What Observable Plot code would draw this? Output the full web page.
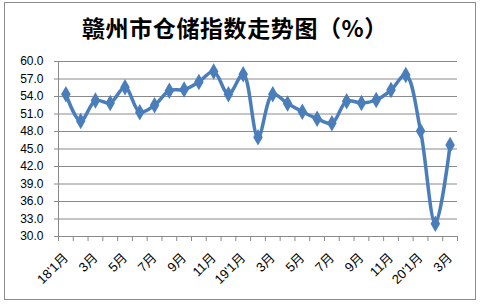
<!DOCTYPE html>
<html><head><meta charset="utf-8">
<script src="https://cdn.jsdelivr.net/npm/d3@7"></script>
<script src="https://cdn.jsdelivr.net/npm/@observablehq/plot@0.6"></script>
<style>
html,body{margin:0;padding:0;background:#fff;}
#wrap{position:relative;width:480px;height:304px;overflow:hidden;font-family:"Liberation Sans","Noto Sans CJK SC",sans-serif;}
#title{position:absolute;left:0;top:11px;width:470px;text-align:center;font-family:"Noto Sans CJK SC",sans-serif;font-weight:700;font-size:23px;letter-spacing:0.6px;line-height:32px;color:#000;}
#chart{position:absolute;left:0;top:44px;}
#border{position:absolute;left:4px;top:2px;width:470px;height:296px;border:1px solid #8c8c8c;pointer-events:none;}
</style>
</head><body>
<div id="wrap"><div id="title">赣州市仓储指数走势图（%）</div><div id="chart"></div><div id="border"></div></div>
<script>
const months = ["18'1月","2月","3月","4月","5月","6月","7月","8月","9月","10月","11月","12月",
  "19'1月","2月","3月","4月","5月","6月","7月","8月","9月","10月","11月","12月",
  "20'1月","2月","3月"];
const values = [54.4,49.8,53.3,52.9,55.6,51.3,52.5,55.0,55.2,56.5,58.3,54.4,
  57.8,47.0,54.4,52.8,51.4,50.2,49.4,53.2,52.9,53.4,55.1,57.7,
  48.1,32.2,45.7];
const yTicks = [30,33,36,39,42,45,48,51,54,57,60];

const data = months.map((m,i)=>({i, m, v: values[i]}));
const bounds = d3.range(-0.5, months.length, 1);
const labelIdx = d3.range(0, months.length, 2);
const blue = "#4a7ebb";
const grid = "#8a8a8a";

const chart = Plot.plot({
  width: 480, height: 260,
  marginLeft: 58, marginRight: 23, marginTop: 17, marginBottom: 68,
  style: {fontFamily: "'Liberation Sans','Noto Sans CJK SC',sans-serif", fontSize: "11px", color: "#000"},
  x: {domain: [-0.5, months.length - 0.5]},
  y: {domain: [30, 60]},
  marks: [
    Plot.gridY(yTicks, {stroke: grid, strokeOpacity: 1}),
    Plot.ruleX([-0.5], {y1: 30, y2: 60, stroke: grid}),
    Plot.axisY({ticks: yTicks, tickFormat: d => d.toFixed(1), tickSize: 4, tickPadding: 11, stroke: grid, label: null, fontSize: 12}),
    Plot.axisX({ticks: bounds, tickSize: 5, tickFormat: () => "", stroke: grid, label: null}),
    Plot.axisX({ticks: labelIdx, tickSize: 0, tickPadding: 19, tickRotate: -45, tickFormat: i => months[i], label: null, fontSize: 13}),
    Plot.line(data, {x: "i", y: "v", stroke: blue, strokeWidth: 3.5, curve: "catmull-rom"}),
    Plot.dot(data, {x: "i", y: "v", symbol: "diamond", r: 5, fill: blue})
  ]
});
document.getElementById("chart").appendChild(chart);
</script>
</body></html>
